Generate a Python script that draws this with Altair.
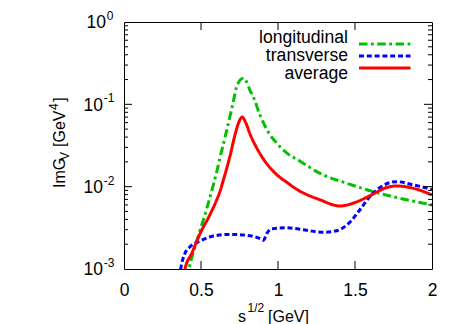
import altair as alt
import pandas as pd

FONT = "Liberation Sans"

series_names = ["longitudinal", "transverse", "average"]
series_colors = ["#00c000", "#0000ff", "#ff0000"]
series_dashes = [[8.5, 3.5, 2.7, 3.6], [5, 2.8], [1, 0]]

# longitudinal (green dash-dot)
s_long = [0.41, 0.422, 0.461, 0.494, 0.537, 0.580, 0.602, 0.623, 0.656, 0.705, 0.736,
          0.775, 0.797, 0.818, 0.84, 0.883, 0.926, 0.948, 0.991, 1.056, 1.143, 1.273,
          1.446, 1.619, 1.81, 2.0]
v_long = [0.00076, 0.0010, 0.00186, 0.00295, 0.00537, 0.0105, 0.0151, 0.0224, 0.0398,
          0.0977, 0.174, 0.207, 0.186, 0.148, 0.123, 0.0741, 0.0501, 0.0427, 0.0339,
          0.0257, 0.0204, 0.0145, 0.0110, 0.0087, 0.0071, 0.0060]

# transverse (blue dashed)
s_trans = [0.36, 0.368, 0.396, 0.429, 0.494, 0.58, 0.688, 0.818, 0.883, 0.905, 0.93,
           0.96, 1.056, 1.186, 1.294, 1.381, 1.468, 1.532, 1.597, 1.662, 1.77, 1.879, 2.0]
v_trans = [0.00079, 0.0010, 0.00155, 0.00186, 0.00219, 0.00251, 0.00263, 0.00254,
           0.00234, 0.00224, 0.00275, 0.00309, 0.00316, 0.00295, 0.00279, 0.00292,
           0.00372, 0.00525, 0.00759, 0.00977, 0.0115, 0.0105, 0.0093]

# average (red solid)
s_avg = [0.385, 0.396, 0.44, 0.494, 0.558, 0.602, 0.623, 0.645, 0.688, 0.721, 0.745,
         0.768, 0.79, 0.818, 0.862, 0.90, 0.99, 1.06, 1.12, 1.273, 1.403, 1.489, 1.597,
         1.706, 1.77, 1.879, 2.0]
v_avg = [0.00079, 0.0010, 0.00155, 0.00269, 0.00457, 0.00692, 0.00871, 0.0120, 0.0234,
         0.0427, 0.0603, 0.0700, 0.0603, 0.0437, 0.0295, 0.0224, 0.0141, 0.0112, 0.00933,
         0.00692, 0.00582, 0.00631, 0.00776, 0.00977, 0.0102, 0.00955, 0.00794]

x_label_values = [0, 0.5, 1, 1.5, 2]
x_tick_values = [0.5, 1.0, 1.5]
y_neg_label_values = [0.001, 0.01, 0.1]
y_neg_exponents = ["-3", "-2", "-1"]
y_zero_label_values = [1]
y_zero_exponents = ["0"]
y_major_ticks = [0.01, 0.1]
y_minor_ticks = [m * d for d in (0.001, 0.01, 0.1) for m in range(2, 10)]

x_title_parts = ["s", "1/2", "[GeV]"]
y_title_parts = ["ImG", "V", "[GeV", "4", "]"]

W, H = 308, 247

lines_df = pd.concat([
    pd.DataFrame({"s": s_long, "v": v_long, "series": series_names[0]}),
    pd.DataFrame({"s": s_trans, "v": v_trans, "series": series_names[1]}),
    pd.DataFrame({"s": s_avg, "v": v_avg, "series": series_names[2]}),
], ignore_index=True)

xs = alt.Scale(domain=[0, 2], nice=False, zero=False)
ys = alt.Scale(type="log", domain=[0.001, 1], nice=False)

x_axis = alt.Axis(values=x_label_values, format="~g", ticks=False, domain=False, grid=False,
                  title=None, labelFontSize=17.5, labelFont=FONT, labelColor="black",
                  labelPadding=12, labelFlush=False, labelOverlap=False)

color = alt.Color("series:N", scale=alt.Scale(domain=series_names, range=series_colors), legend=None)
dash = alt.StrokeDash("series:N", scale=alt.Scale(domain=series_names, range=series_dashes), legend=None)

lines = alt.Chart(lines_df).mark_line(clip=True, strokeWidth=3, interpolate="monotone").encode(
    x=alt.X("s:Q", scale=xs, axis=x_axis),
    y=alt.Y("v:Q", scale=ys, axis=None),
    color=color,
    strokeDash=dash,
)

xt_df = pd.DataFrame({"s": x_tick_values})
ymaj_df = pd.DataFrame({"v": y_major_ticks})
ymin_df = pd.DataFrame({"v": y_minor_ticks})

def xtick(y0, y1):
    return alt.Chart(xt_df).mark_rule(color="black", strokeWidth=1).encode(
        x=alt.X("s:Q", scale=xs, axis=x_axis), y=alt.value(y0), y2=alt.value(y1))

def ytick(df, x0, x1):
    return alt.Chart(df).mark_rule(color="black", strokeWidth=1).encode(
        y=alt.Y("v:Q", scale=ys, axis=None), x=alt.value(x0), x2=alt.value(x1))

ticks = [
    xtick(H, H - 8), xtick(0, 8),
    ytick(ymaj_df, 0, 8), ytick(ymaj_df, W, W - 8),
    ytick(ymin_df, 0, 4), ytick(ymin_df, W, W - 4),
]

# y tick labels: "10" with superscript exponent
def ylabels(values, exps, x_base):
    df = pd.DataFrame({"v": values, "e": exps, "b": ["10"] * len(values)})
    base = alt.Chart(df).mark_text(align="right", baseline="alphabetic", fontSize=17.5,
                                   font=FONT, color="black", dy=6.3).encode(
        y=alt.Y("v:Q", scale=ys, axis=None), x=alt.value(x_base), text="b:N")
    sup = alt.Chart(df).mark_text(align="left", baseline="alphabetic", fontSize=12,
                                  font=FONT, color="black", dy=-2).encode(
        y=alt.Y("v:Q", scale=ys, axis=None), x=alt.value(x_base + 0.7), text="e:N")
    return [base, sup]

ylab = ylabels(y_neg_label_values, y_neg_exponents, -21) + \
       ylabels(y_zero_label_values, y_zero_exponents, -18)

leg_df = pd.DataFrame({"series": series_names})
leg_y = alt.Y("series:N", scale=alt.Scale(domain=series_names, range=[16, 52], padding=0), axis=None)
leg_lines = alt.Chart(leg_df).mark_rule(strokeWidth=3).encode(
    x=alt.value(235), x2=alt.value(286.5), y=leg_y, color=color, strokeDash=dash)
leg_text = alt.Chart(leg_df).mark_text(align="right", baseline="middle", fontSize=17.6,
                                       font=FONT, color="black").encode(
    x=alt.value(224), y=leg_y, text="series:N")

def txt(t, x, y, size, angle=0, dx=0, dy=0):
    kw = dict(align="left", baseline="alphabetic", fontSize=size, font=FONT, color="black",
              dx=dx, dy=dy)
    if angle:
        kw["angle"] = angle
    return alt.Chart(pd.DataFrame({"t": [t]})).mark_text(**kw).encode(
        x=alt.value(x), y=alt.value(y), text="t:N")

titles = [
    txt(x_title_parts[0], 114, 300, 16),
    txt(x_title_parts[1], 123.5, 290, 12),
    txt(x_title_parts[2], 144, 300, 16),
    txt(y_title_parts[0], -59.5, 166, 16, angle=270, dx=0),
    txt(y_title_parts[1], -59.5, 166, 12, angle=270, dx=28, dy=4),
    txt(y_title_parts[2], -59.5, 166, 16, angle=270, dx=41),
    txt(y_title_parts[3], -59.5, 166, 12, angle=270, dx=78, dy=-7),
    txt(y_title_parts[4], -59.5, 166, 16, angle=270, dx=86.3),
]

chart = alt.layer(lines, *ticks, *ylab, leg_lines, leg_text, *titles).resolve_scale(
    y="independent"
).properties(
    width=W, height=H,
    padding={"left": 116, "top": 14, "right": 23, "bottom": 55},
    autosize=alt.AutoSizeParams(type="none"),
).configure_view(stroke="black", strokeWidth=1)

chart.save("out.html", embed_options={"renderer": "svg", "actions": False})
